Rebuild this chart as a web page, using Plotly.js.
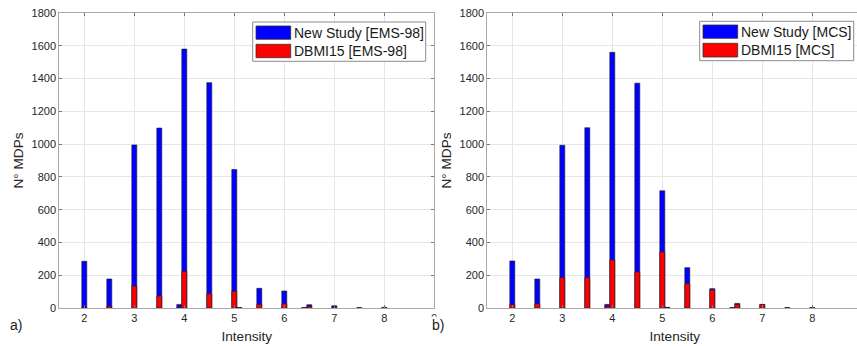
<!DOCTYPE html>
<html><head><meta charset="utf-8">
<script src="https://cdn.plot.ly/plotly-3.0.1.min.js"></script>
<style>html,body{margin:0;padding:0;overflow:hidden;background:#fff}#chart{width:880px;height:346px}</style>
</head><body><div id="chart"></div><script>
// Data
const intensity   = [2, 2.5, 3, 3.5, 3.9, 4, 4.5, 5, 5.1, 5.5, 6, 6.4, 6.5, 7, 7.5, 8];
const newStudyEMS = [285, 177, 995, 1098, 22, 1580, 1375, 845, 3, 120, 104, 3, 20, 14, 2, 4];
const dbmiEMS     = [3, 10, 134, 73, 5, 224, 86, 102, 0, 22, 26, 0, 10, 5, 0, 0];
const newStudyMCS = [287, 177, 993, 1100, 22, 1560, 1372, 715, 4, 246, 118, 2, 28, 22, 2, 3];
const dbmiMCS     = [20, 26, 185, 185, 10, 293, 220, 342, 0, 148, 110, 0, 21, 21, 0, 0];
const namesA = ['New Study [EMS-98]', 'DBMI15 [EMS-98]'];
const namesB = ['New Study [MCS]', 'DBMI15 [MCS]'];
const xTicksA = [2, 3, 4, 5, 6, 7, 8, 9];
const xTicksB = [2, 3, 4, 5, 6, 7, 8];
const panelLabels = ['a)', 'b)'];
const xTitle = 'Intensity';
const yTitle = 'N° MDPs';

const W = 880, H = 346, T = 13, B = 38;
const PH = H - T - B;
const px = v => v / W;
const py = v => (H - B - v) / PH;

const blue = '#0000ff', red = '#ff0000', edge = '#1e1e1e';
const FONT = 'Liberation Sans, Arial, sans-serif';
const tickColor = '#262626';

function barTrace(y, name, color, xa, ya) {
  return {type: 'bar', x: intensity, y: y, name: name, width: 0.1, xaxis: xa, yaxis: ya,
    marker: {color: color, line: {color: edge, width: 0.6}}, showlegend: false, hoverinfo: 'x+y+name'};
}

const data = [
  barTrace(newStudyEMS, namesA[0], blue, 'x', 'y'),
  barTrace(dbmiEMS, namesA[1], red, 'x', 'y'),
  barTrace(newStudyMCS, namesB[0], blue, 'x2', 'y2'),
  barTrace(dbmiMCS, namesB[1], red, 'x2', 'y2')
];

function xax(domain, anchor, ticks) {
  return {domain: domain, anchor: anchor, range: [1.5, 9], tickvals: ticks, ticktext: ticks.map(String),
    showgrid: true, gridcolor: '#e6e6e6', gridwidth: 1, zeroline: false,
    showline: true, linecolor: '#a8a8a8', linewidth: 1, mirror: 'ticks',
    ticks: 'inside', ticklen: 3, tickcolor: '#777', tickfont: {family: FONT, size: 11, color: tickColor},
    title: {text: xTitle, font: {family: FONT, size: 13.6, color: tickColor}, standoff: 8}, automargin: false, fixedrange: true};
}
function yax(anchor) {
  return {domain: [0, 1], anchor: anchor, range: [0, 1800], dtick: 200, tick0: 0,
    showgrid: true, gridcolor: '#e6e6e6', gridwidth: 1, zeroline: false,
    showline: true, linecolor: '#a8a8a8', linewidth: 1, mirror: 'ticks',
    ticks: 'inside', ticklen: 3, tickcolor: '#777', tickfont: {family: FONT, size: 11, color: tickColor},
    title: {text: yTitle, font: {family: FONT, size: 13.6, color: tickColor}, standoff: 4}, automargin: false, fixedrange: true};
}

const shapes = [], annotations = [];
function legend(box, patchX, rows, textX, names) {
  shapes.push({type: 'rect', xref: 'paper', yref: 'paper', layer: 'above',
    x0: px(box[0]), x1: px(box[1]), y0: py(box[3]), y1: py(box[2]),
    fillcolor: '#ffffff', line: {color: '#8c8c8c', width: 1}});
  [blue, red].forEach((c, i) => {
    shapes.push({type: 'rect', xref: 'paper', yref: 'paper', layer: 'above',
      x0: px(patchX[0]), x1: px(patchX[1]), y0: py(rows[i][1]), y1: py(rows[i][0]),
      fillcolor: c, line: {color: '#333', width: 0.8}});
    annotations.push({xref: 'paper', yref: 'paper', x: px(textX), y: py((rows[i][0] + rows[i][1]) / 2),
      xanchor: 'left', yanchor: 'middle', text: names[i], showarrow: false,
      font: {family: FONT, size: 14, color: '#1a1a1a'}});
  });
}
legend([252.7, 425.7, 22, 61.3], [256, 290.7], [[26, 39.3], [44.3, 57.7]], 291.5, namesA);
legend([699.7, 853.7, 21.3, 60.7], [703, 737.7], [[25, 38.3], [43.3, 57]], 738.5, namesB);

annotations.push({xref: 'paper', yref: 'paper', x: px(8), y: py(325), xanchor: 'left', yanchor: 'middle',
  text: panelLabels[0], showarrow: false, font: {family: FONT, size: 14, color: '#1a1a1a'}});
annotations.push({xref: 'paper', yref: 'paper', x: px(431), y: py(325), xanchor: 'left', yanchor: 'middle',
  text: panelLabels[1], showarrow: false, bgcolor: '#ffffff', borderpad: 0,
  font: {family: FONT, size: 14, color: '#1a1a1a'}});

const layout = {
  width: W, height: H, margin: {l: 0, r: 0, t: T, b: B, pad: 0},
  paper_bgcolor: '#ffffff', plot_bgcolor: '#ffffff', barmode: 'overlay', showlegend: false,
  xaxis: xax([px(59.3), px(434.3)], 'y', xTicksA),
  yaxis: yax('x'),
  xaxis2: xax([px(487.3), px(862.3)], 'y2', xTicksB),
  yaxis2: yax('x2'),
  shapes: shapes, annotations: annotations
};

Plotly.newPlot('chart', data, layout, {displayModeBar: false, staticPlot: true});
</script></body></html>
